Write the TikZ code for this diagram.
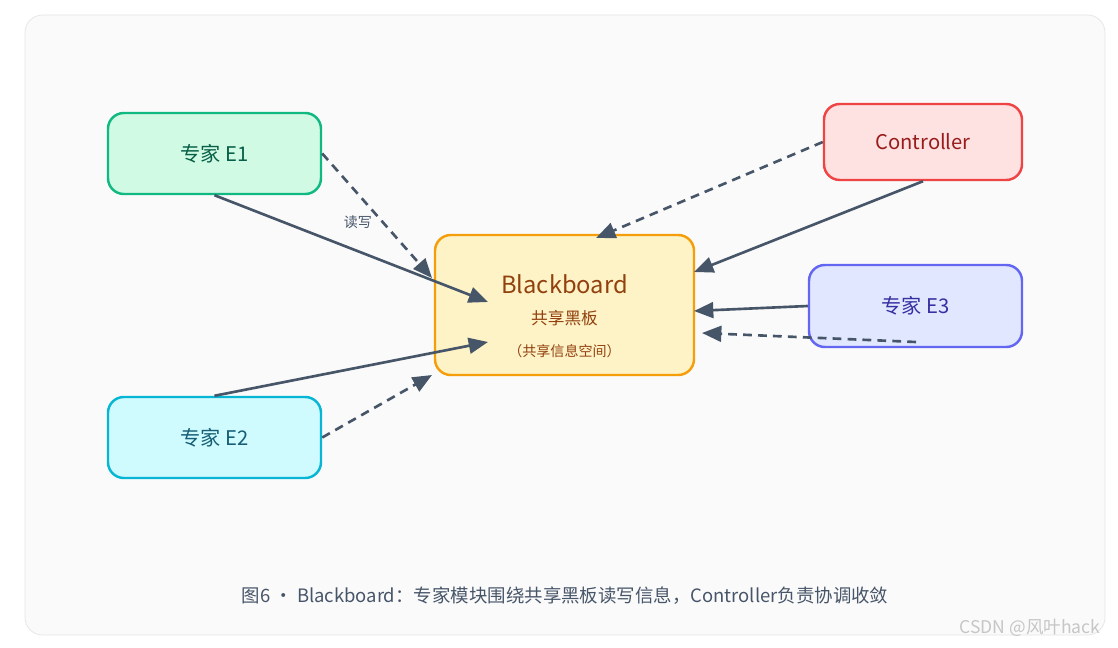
\documentclass[tikz,border=0pt]{standalone}
\usepackage{fontspec}
\setmainfont{Noto Sans CJK SC}
\usetikzlibrary{arrows.meta}
\definecolor{ln}{HTML}{475569}
\begin{document}
\begin{tikzpicture}[x=0.02cm,y=-0.02cm,
 box/.style={draw,rounded corners=9pt,line width=1.4pt,inner sep=0pt},
 con/.style={draw=ln,line width=1.5pt,-{Triangle[length=11pt,width=9pt]}},
 dsh/.style={con,dash pattern=on 5pt off 3.5pt}]
\useasboundingbox (0,0) rectangle (1118,648);
\fill[white] (0,0) rectangle (1118,648);
\draw[fill=gray!4,draw=gray!20,rounded corners=10pt] (25,15) rectangle (1105,635);
\node (e1) [box,fill={rgb,255:red,209;green,250;blue,229},draw={rgb,255:red,16;green,185;blue,129},minimum width=213*0.02cm,minimum height=81*0.02cm,text={rgb,255:red,6;green,95;blue,70},font=\fontsize{11.5}{13}\selectfont] at (214.5,153.5) {专家 E1};
\node (e2) [box,fill={rgb,255:red,207;green,250;blue,254},draw={rgb,255:red,6;green,182;blue,212},minimum width=213*0.02cm,minimum height=81*0.02cm,text={rgb,255:red,21;green,94;blue,117},font=\fontsize{11.5}{13}\selectfont] at (214.5,437.5) {专家 E2};
\node (ct) [box,fill={rgb,255:red,254;green,226;blue,226},draw={rgb,255:red,239;green,68;blue,68},minimum width=198*0.02cm,minimum height=76*0.02cm,text={rgb,255:red,153;green,27;blue,27},font=\fontsize{11.5}{13}\selectfont] at (923,142) {Controller};
\node (e3) [box,fill={rgb,255:red,224;green,231;blue,255},draw={rgb,255:red,99;green,102;blue,241},minimum width=213*0.02cm,minimum height=82*0.02cm,text={rgb,255:red,55;green,48;blue,163},font=\fontsize{11.5}{13}\selectfont] at (915.5,306) {专家 E3};
\node (bb) [box,fill={rgb,255:red,254;green,243;blue,199},draw={rgb,255:red,245;green,158;blue,11},minimum width=259*0.02cm,minimum height=140*0.02cm] at (564.5,305) {};
\node (t1) at (564.5,284) [text={rgb,255:red,146;green,64;blue,14},font=\fontsize{13.5}{15}\selectfont] {Blackboard};
\node (t2) at (564.5,318) [text={rgb,255:red,146;green,64;blue,14},font=\fontsize{9.5}{11}\selectfont] {共享黑板};
\node (t3) at (564.5,351) [text={rgb,255:red,146;green,64;blue,14},font=\fontsize{8}{9}\selectfont] {（共享信息空间）};
\coordinate (a1) at (488,302);
\coordinate (a2) at (488,342);
\coordinate (s3) at (916,342);
\coordinate (d3) at (702,333);
\draw[con] (e1.south) -- (a1);
\draw[dsh] (e1.east) -- (432,278) node[pos=0.55,left,text=ln,font=\fontsize{8}{9}\selectfont,xshift=-2pt] {读写};
\draw[con] (e2.north) -- (a2);
\draw[dsh] (e2.east) -- (432,375);
\draw[con] (ct.south) -- (694,272);
\draw[dsh] (ct.west) -- (596,238);
\draw[con] (e3.west) -- (694,311);
\draw[dsh] (s3) -- (d3);
\node (cap) at (565,596) [text=ln,font=\fontsize{10.5}{12}\selectfont] {图6 · Blackboard：专家模块围绕共享黑板读写信息，Controller负责协调收敛};
\node (wm) at (1030,628) [text=gray!45,font=\fontsize{10}{12}\selectfont] {CSDN @风叶hack};
\end{tikzpicture}
\end{document}
